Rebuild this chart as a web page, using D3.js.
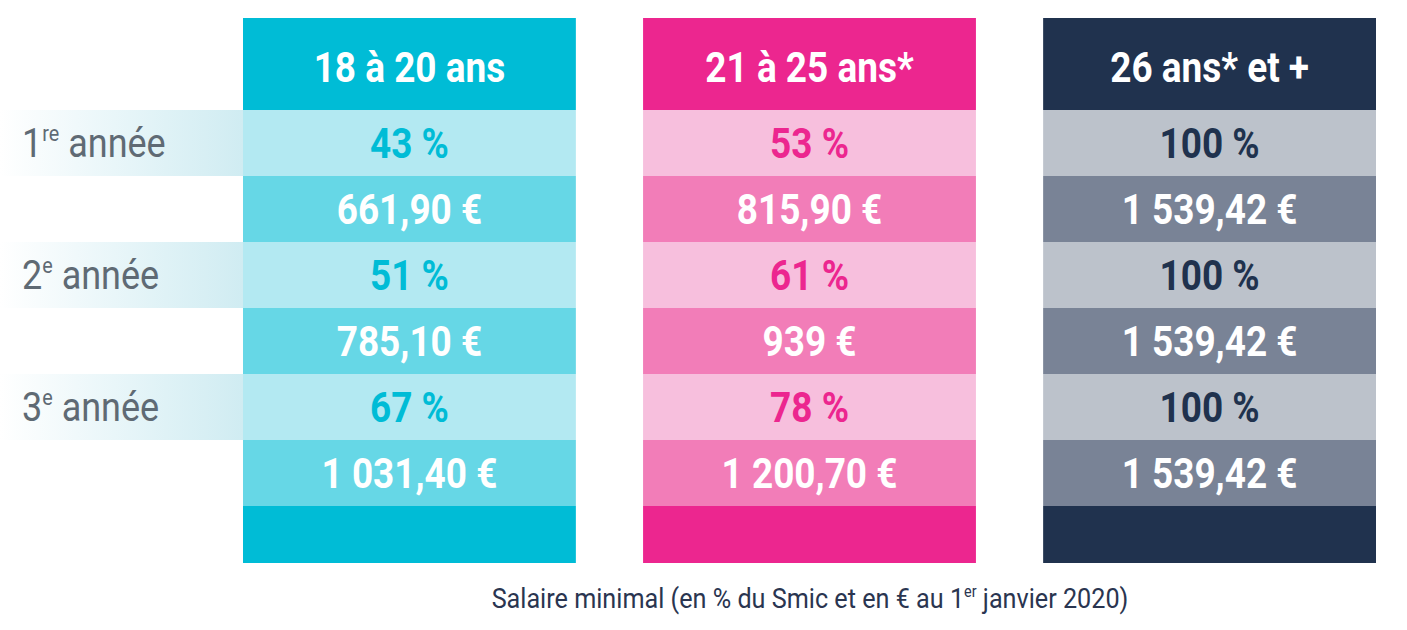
<!DOCTYPE html>
<html><head><meta charset="utf-8">
<script src="https://cdn.jsdelivr.net/npm/d3@7"></script>
<style>body{margin:0;background:#fff}</style></head>
<body><svg id="c" width="1407" height="630"></svg>
<script>
const groups = ["18 à 20 ans","21 à 25 ans*","26 ans* et +"];
const years = [["1","re"," année"],["2","e"," année"],["3","e"," année"]];
const pct = [["43 %","51 %","67 %"],["53 %","61 %","78 %"],["100 %","100 %","100 %"]];
const euros = [["661,90 €","785,10 €","1 031,40 €"],["815,90 €","939 €","1 200,70 €"],["1 539,42 €","1 539,42 €","1 539,42 €"]];
const caption = ["Salaire minimal (en % du Smic et en €  au 1","er"," janvier 2020)"];
const palette = [
  {head:"#00bcd6", light:"#b3e9f2", mid:"#66d7e6", pctText:"#00bcd6"},
  {head:"#ec268f", light:"#f7bfdd", mid:"#f27db8", pctText:"#ec268f"},
  {head:"#20324e", light:"#bcc2cb", mid:"#798396", pctText:"#20324e"}
];
const svg = d3.select("#c");
const x = d3.scaleBand().domain(d3.range(3)).range([243,1376]).paddingInner(0.168);
const rowY = d3.scaleLinear().domain([0,6]).range([110,506]);
const rh = rowY(1)-rowY(0);
const defs = svg.append("defs");
const gr = defs.append("linearGradient").attr("id","lg");
gr.append("stop").attr("offset","0").attr("stop-color","#ffffff");
gr.append("stop").attr("offset","1").attr("stop-color","#d0ecf2");
years.forEach((yv,i)=>{
  const y0 = rowY(i*2);
  svg.append("rect").attr("x",0).attr("y",y0).attr("width",243).attr("height",rh).attr("fill","url(#lg)");
  const t = svg.append("text").attr("x",22).attr("y",y0+rh/2+14).attr("font-family","Roboto, sans-serif")
    .attr("font-size",40).attr("fill","#5f6a74").attr("transform",`translate(22,0) scale(0.9,1) translate(-22,0)`);
  t.append("tspan").text(yv[0]);
  t.append("tspan").attr("font-size",22).attr("dy",-16).text(yv[1]);
  t.append("tspan").attr("dy",16).text(yv[2]);
});
const bold = (sel,cx,cy,txt,fill)=>sel.append("text").attr("x",0).attr("y",0)
  .attr("transform",`translate(${cx},${cy}) scale(0.88,1)`).attr("text-anchor","middle")
  .attr("font-family","Roboto, sans-serif").attr("font-weight",700).attr("font-size",42)
  .attr("fill",fill).text(txt);
groups.forEach((g,gi)=>{
  const x0=x(gi), w=x.bandwidth(), c=palette[gi], cx=x0+w/2;
  svg.append("rect").attr("x",x0).attr("y",18).attr("width",w).attr("height",rowY(0)-18).attr("fill",c.head);
  svg.append("rect").attr("x",x0).attr("y",rowY(6)).attr("width",w).attr("height",563-rowY(6)).attr("fill",c.head);
  bold(svg,cx,82,g,"#fff");
  for(let i=0;i<3;i++){
    const ya=rowY(2*i), yb=rowY(2*i+1);
    svg.append("rect").attr("x",x0).attr("y",ya).attr("width",w).attr("height",rh).attr("fill",c.light);
    svg.append("rect").attr("x",x0).attr("y",yb).attr("width",w).attr("height",rh).attr("fill",c.mid);
    bold(svg,cx,ya+rh/2+15,pct[gi][i],c.pctText);
    bold(svg,cx,yb+rh/2+15,euros[gi][i],"#fff");
  }
});
const ct = svg.append("text").attr("x",0).attr("y",0).attr("transform","translate(810,608) scale(0.9,1)")
  .attr("text-anchor","middle").attr("font-family","Roboto, sans-serif").attr("font-size",28).attr("fill","#2a3550");
ct.append("tspan").text(caption[0]);
ct.append("tspan").attr("font-size",16).attr("dy",-11).text(caption[1]);
ct.append("tspan").attr("dy",11).text(caption[2]);
</script></body></html>
